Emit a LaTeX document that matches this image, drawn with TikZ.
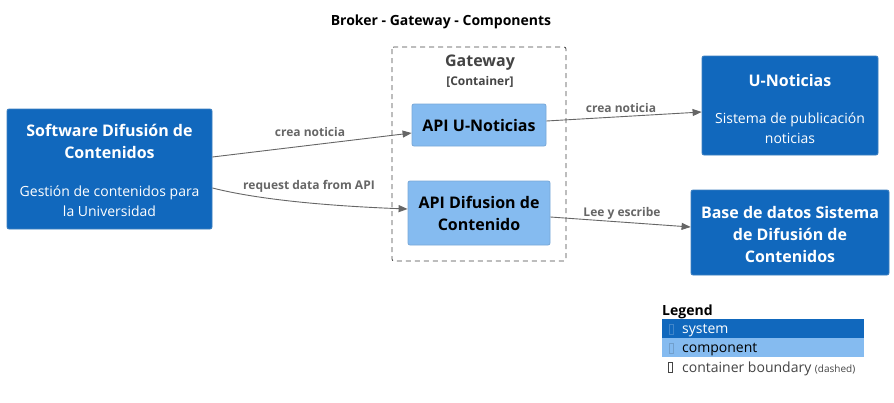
\documentclass[tikz,border=0pt]{standalone}
\usepackage{fontspec}
\setmainfont{Open Sans}
\usetikzlibrary{arrows.meta}
\definecolor{sysblue}{HTML}{1168BD}
\definecolor{sysborder}{HTML}{3C7FC0}
\definecolor{compblue}{HTML}{85BBF0}
\definecolor{compborder}{HTML}{78A8D8}
\definecolor{relgray}{HTML}{666666}
\definecolor{bndgray}{HTML}{444444}
\tikzset{
  sysbox/.style={draw=sysborder, fill=sysblue, rounded corners=2pt, line width=0.8pt, text=white, align=center, inner sep=0pt},
  compbox/.style={draw=compborder, fill=compblue, rounded corners=2pt, line width=0.8pt, text=black, align=center, inner sep=0pt},
  rel/.style={draw=relgray, line width=0.9pt, -{Triangle[length=9pt,width=7pt]}},
  rellabel/.style={text=relgray, font=\fontsize{12}{14}\selectfont\bfseries, inner sep=0pt, yshift=-1.5pt},
  ttl/.style={font=\fontsize{16}{22}\selectfont\bfseries},
  dsc/.style={font=\fontsize{14}{20}\selectfont},
}
\begin{document}
\begin{tikzpicture}[x=1pt,y=-1pt]
\useasboundingbox[fill=white] (0,0) rectangle (894,402);
% title
\node[font=\fontsize{14}{16}\selectfont\bfseries, inner sep=0pt] (title) at (441,22) {Broker - Gateway - Components};
% boundary
\draw[dashed, draw=bndgray, line width=0.8pt, rounded corners=2pt, dash pattern=on 5pt off 4pt] (392,47) rectangle (566,261);
\node[font=\fontsize{16}{18}\selectfont\bfseries, text=bndgray, inner sep=0pt] (gw) at (480,62.5) {Gateway};
\node[font=\fontsize{12}{14}\selectfont\bfseries, text=bndgray, inner sep=0pt] (gwt) at (480,82) {[Container]};
% systems
\node[sysbox, minimum width=205pt, minimum height=120pt] (sw) at (109.5,169) {};
\node[ttl, text=white, align=center, inner sep=0pt] at (109.5,141) {Software Difusión de\\Contenidos};
\node[dsc, text=white, align=center, inner sep=0pt] at (109.5,201) {Gestión de contenidos para\\la Universidad};
\node[sysbox, minimum width=176pt, minimum height=99pt] (un) at (790,105.5) {};
\node[ttl, text=white, inner sep=0pt] at (790,80) {U-Noticias};
\node[dsc, text=white, align=center, inner sep=0pt] at (790,128) {Sistema de publicación\\noticias};
\node[sysbox, minimum width=198pt, minimum height=85pt] (db) at (790,232.5) {};
\node[ttl, text=white, align=center, inner sep=0pt] at (790,234.5) {Base de datos Sistema\\de Difusión de\\Contenidos};
% components
\node[compbox, minimum width=134pt, minimum height=42pt, font=\fontsize{16}{22}\selectfont\bfseries] (apiu) at (479,125) {API U-Noticias};
\node[compbox, minimum width=142pt, minimum height=64pt, font=\fontsize{16}{22}\selectfont\bfseries] (apid) at (479,213) {API Difusion de\\Contenido};
% relations
\draw[rel] (sw.east |- 0,157) -- (apiu.west |- 0,133);
\node[rellabel] at (310,130) {crea noticia};
\draw[rel] (sw.east |- 0,188) .. controls (260,200) and (330,206) .. (apid.west |- 0,209);
\node[rellabel] at (309,185) {request data from API};
\draw[rel] (apiu.east |- 0,121) -- (un.west |- 0,112);
\node[rellabel] at (621,106) {crea noticia};
\draw[rel] (apid.east |- 0,217) -- (db.west |- 0,227);
\node[rellabel] at (622,212) {Lee y escribe};
% legend
\node[font=\fontsize{14}{16}\selectfont\bfseries, anchor=west, inner sep=0pt] (lg) at (662,312) {Legend};
\fill[sysblue] (662,319) rectangle (864,338);
\fill[compblue] (662,338) rectangle (864,357);
\draw[draw=sysblue!80!white, line width=0.6pt] (669.5,324) rectangle (673.5,334);
\draw[draw=compblue!85!black, line width=0.6pt] (669.5,343) rectangle (673.5,353);
\draw[draw=bndgray, line width=0.6pt] (668.5,362) rectangle (672.5,372);
\node[font=\fontsize{14}{16}\selectfont, text=white, anchor=west, inner sep=0pt] (ls) at (682,330.5) {system};
\node[font=\fontsize{14}{16}\selectfont, text=black, anchor=west, inner sep=0pt] (lc) at (682,349.5) {component};
\node[font=\fontsize{14}{16}\selectfont, text=bndgray, anchor=west, inner sep=0pt] (lb) at (682,369) {container boundary {\fontsize{10}{12}\selectfont (dashed)}};
\end{tikzpicture}
\end{document}
